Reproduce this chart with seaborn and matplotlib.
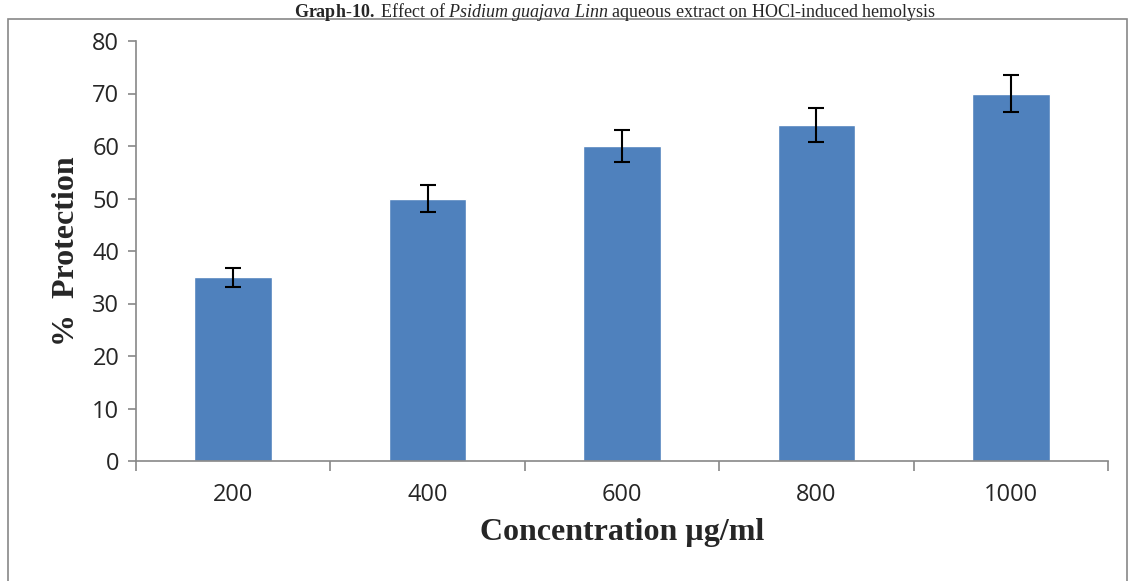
import numpy as np
import pandas as pd
import matplotlib
matplotlib.use('Agg')
import matplotlib.pyplot as plt
import seaborn as sns
from matplotlib.patches import Rectangle


# % protection of Psidium guajava extract against HOCl-induced hemolysis

conc = ['200', '400', '600', '800', '1000']
protection = [35, 50, 60, 64, 70]
errs = [1.8, 2.5, 3.0, 3.3, 3.5]

sns.set_style('white')
plt.rcParams['mathtext.fontset'] = 'custom'
plt.rcParams['mathtext.rm'] = 'Liberation Serif'
plt.rcParams['mathtext.it'] = 'Liberation Serif:italic'
plt.rcParams['mathtext.bf'] = 'Liberation Serif:bold'

data = pd.DataFrame({'conc': conc, 'protection': protection})

fig = plt.figure(figsize=(11.29, 5.81), dpi=100)
ax = fig.add_axes([136/1129, 1 - 461/581, (1108 - 136)/1129, (461 - 41)/581])

sns.barplot(x='conc', y='protection', data=data, ax=ax, color='#4f81bd',
            saturation=1, width=0.4, errorbar=None)
ax.errorbar(range(len(conc)), protection, yerr=errs, fmt='none',
            ecolor='black', elinewidth=1.5, capsize=6, capthick=1.5)

ax.set_ylim(0, 80)
ax.set_xlim(-0.5, len(conc) - 0.5)
ax.set_yticks(range(0, 81, 10))
ax.set_xticks(range(len(conc)))
ax.set_xticklabels(conc)
ax.set_xticks(np.arange(-0.5, len(conc), 1.0), minor=True)

for t in ax.get_xticklabels() + ax.get_yticklabels():
    t.set_fontfamily('Open Sans')
    t.set_fontsize(17)

ax.tick_params(axis='x', which='major', length=0, pad=16)
ax.tick_params(axis='x', which='minor', length=7, width=1.2, color='#888888',
               direction='out', bottom=True)
ax.tick_params(axis='y', which='major', length=6, width=1.2, color='#888888',
               direction='out', left=True, pad=6)

sns.despine(ax=ax)
for s in ('left', 'bottom'):
    ax.spines[s].set_color('#888888')
    ax.spines[s].set_linewidth(1.2)

ax.set_xlabel('Concentration µg/ml', fontfamily='Liberation Serif',
              fontweight='bold', fontsize=23, labelpad=8)
ax.set_ylabel('%  Protection', fontfamily='Liberation Serif',
              fontweight='bold', fontsize=23, labelpad=8)

# outer frame around the chart
fig.patches.append(Rectangle((8/1129, -0.05), (1127 - 8)/1129, 1.05 - 19/581,
                             transform=fig.transFigure, fill=False,
                             edgecolor='#888888', linewidth=1.2))

fig.text(615/1129, 1 - 1/581,
         r'$\mathbf{Graph\text{-}10.}$ Effect of $\mathit{Psidium\ guajava\ Linn}$'
         ' aqueous extract on HOCl-induced hemolysis',
         ha='center', va='top', fontfamily='Liberation Serif', fontsize=13)

fig.savefig('out.png', dpi=100)
